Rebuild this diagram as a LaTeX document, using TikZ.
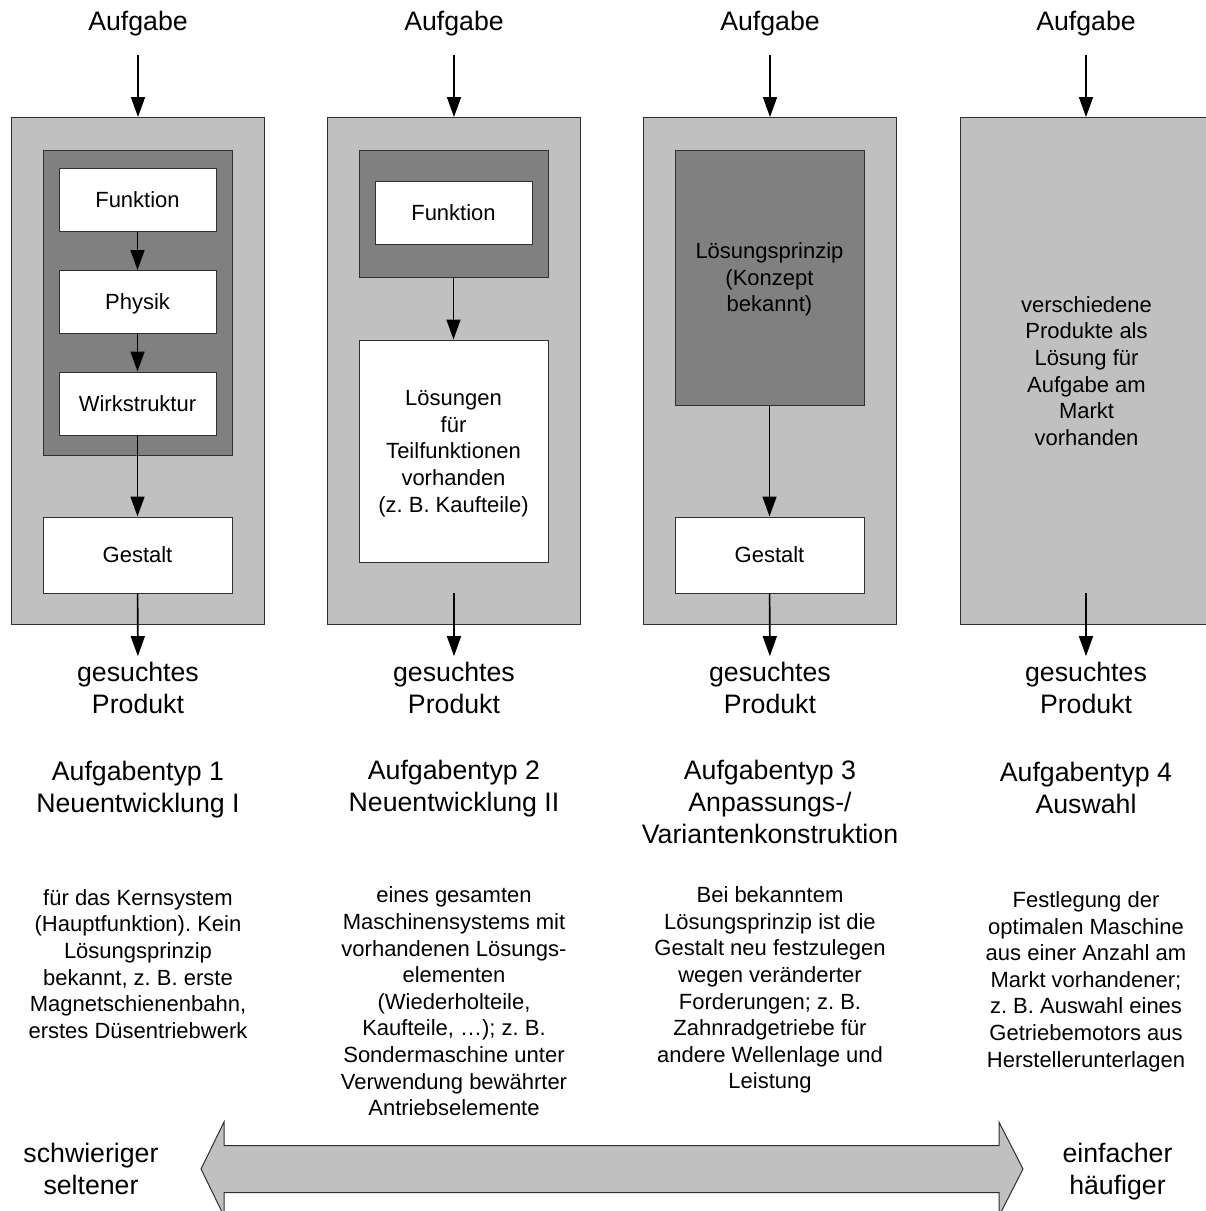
\documentclass[tikz,border=0pt]{standalone}
\usepackage{fontspec}
\setmainfont{Liberation Sans}
\usetikzlibrary{arrows.meta}
\frenchspacing
\definecolor{panel}{HTML}{C0C0C0}
\definecolor{core}{HTML}{808080}
\definecolor{edge}{HTML}{303030}
% font sizes
\newcommand\fbig{\fontsize{26.7pt}{32pt}\selectfont}
\newcommand\fsmall{\fontsize{22pt}{26.6pt}\selectfont}
% struts that centre the cap height of a text block on its node centre
\newcommand\hiL{\rule[-5.6pt]{0pt}{30.3pt}}
\newcommand\hiS{\rule[-4.6pt]{0pt}{24.95pt}}
\begin{document}
\begin{tikzpicture}[x=1pt,y=-1pt,
  outerbox/.style={draw=edge,line width=1pt,fill=panel,inner sep=0pt,
    minimum width=253pt,minimum height=507pt,font=\fsmall,align=center},
  darkbox/.style={draw=edge,line width=1pt,fill=core,inner sep=0pt,
    minimum width=189pt,font=\fsmall,align=center},
  whitebox/.style={draw=edge,line width=1pt,fill=white,inner sep=0pt,
    minimum width=157pt,minimum height=63pt,font=\fsmall,align=center},
  widebox/.style={whitebox,minimum width=189pt},
  bigtext/.style={inner sep=0pt,font=\fbig,align=center},
  smalltext/.style={inner sep=0pt,font=\fsmall,align=center},
  arr/.style={line width=1.6pt,-{Triangle[width=14pt,length=20pt]}}]
\useasboundingbox (0,0) rectangle (1206,1211);
\clip (0,0) rectangle (1206,1211);

% ---------- column 1: Neuentwicklung I ----------
\node[outerbox] (out1) at (138,371) {};
\node[darkbox,minimum height=305pt] (core1) at (137.5,302.5) {};
\node[whitebox] (fkt1) at (137.5,200) {\hiS Funktion\hiS};
\node[whitebox] (phy1) at (137.5,302) {\hiS Physik\hiS};
\node[whitebox] (wrk1) at (137.5,403.5) {\hiS Wirkstruktur\hiS};
\node[widebox,minimum height=76pt] (gst1) at (137.5,555) {\hiS Gestalt\hiS};

% ---------- column 2: Neuentwicklung II ----------
\node[outerbox] (out2) at (454,371) {};
\node[darkbox,minimum height=127pt] (core2) at (453.5,213.5) {};
\node[whitebox] (fkt2) at (453.5,212.5) {\hiS Funktion\hiS};
\node[widebox,minimum height=222pt] (loes2) at (453.5,451)
  {\hiS Lösungen\\für\\Teilfunktionen\\vorhanden\\(z. B. Kaufteile)\hiS};
\coordinate (end2) at (454,593);

% ---------- column 3: Anpassungs-/Variantenkonstruktion ----------
\node[outerbox] (out3) at (770,371) {};
\node[darkbox,minimum height=255pt] (core3) at (769.5,277.5)
  {\hiS Lösungsprinzip\\(Konzept\\bekannt)\hiS};
\node[widebox,minimum height=76pt] (gst3) at (769.5,555) {\hiS Gestalt\hiS};

% ---------- column 4: Auswahl ----------
\node[outerbox] (out4) at (1086.5,371)
  {\hiS verschiedene\\Produkte als\\Lösung für\\Aufgabe am\\Markt\\vorhanden\hiS};
\coordinate (end4) at (1086,593);

% ---------- inputs and results ----------
\foreach \i/\x in {1/138,2/454,3/770,4/1086}{
  \node[bigtext] (task\i) at (\x,20.5) {\hiL Aufgabe\hiL};
  \node[bigtext] (prod\i) at (\x,687.5) {\hiL gesuchtes\\Produkt\hiL};
}

% ---------- connectors ----------
\foreach \i in {1,2,3,4}
  \draw[arr,shorten <=19.4pt] (task\i.south) -- (task\i.south |- out\i.north);
\draw[arr] (fkt1) -- (phy1);
\draw[arr] (phy1) -- (wrk1);
\draw[arr] (wrk1) -- (gst1);
\draw[arr] (gst1) -- (prod1);
\draw[arr] (core2) -- (loes2);
\draw[arr] (end2) -- (prod2.north);
\draw[arr] (core3) -- (gst3);
\draw[arr] (gst3) -- (prod3);
\draw[arr] (end4) -- (prod4.north);

% ---------- task types ----------
\node[bigtext] (type1) at (138,787) {\hiL Aufgabentyp 1\\Neuentwicklung I\hiL};
\node[bigtext] (type2) at (454,785.5) {\hiL Aufgabentyp 2\\Neuentwicklung II\hiL};
\node[bigtext] (type3) at (770,801.5) {\hiL Aufgabentyp 3\\Anpassungs-/\\Variantenkonstruktion\hiL};
\node[bigtext] (type4) at (1086,788) {\hiL Aufgabentyp 4\\Auswahl\hiL};

% ---------- descriptions ----------
\node[smalltext] (desc1) at (138,964) {\hiS für das Kernsystem\\(Hauptfunktion). Kein\\Lösungsprinzip\\bekannt, z. B. erste\\Magnetschienenbahn,\\erstes Düsentriebwerk\hiS};
\node[smalltext] (desc2) at (454,1001.5) {\hiS eines gesamten\\Maschinensystems mit\\vorhandenen Lösungs-\\elementen\\(Wiederholteile,\\Kaufteile, …); z. B.\\Sondermaschine unter\\Verwendung bewährter\\Antriebselemente\hiS};
\node[smalltext] (desc3) at (770,988) {\hiS Bei bekanntem\\Lösungsprinzip ist die\\Gestalt neu festzulegen\\wegen veränderter\\Forderungen; z. B.\\Zahnradgetriebe für\\andere Wellenlage und\\Leistung\hiS};
\node[smalltext] (desc4) at (1086,979.5) {\hiS Festlegung der\\optimalen Maschine\\aus einer Anzahl am\\Markt vorhandener;\\z. B. Auswahl eines\\Getriebemotors aus\\Herstellerunterlagen\hiS};

% ---------- scale arrow ----------
\draw[draw=edge,line width=1pt,fill=panel]
  (201,1169) -- (224,1122) -- (224,1145.5) -- (999,1145.5) -- (999,1122)
  -- (1023,1169) -- (999,1216) -- (999,1192.5) -- (224,1192.5) -- (224,1216) -- cycle;
\node[bigtext] (hard) at (91,1168.5) {\hiL schwieriger\\seltener\hiL};
\node[bigtext] (easy) at (1117.5,1168.5) {\hiL einfacher\\häufiger\hiL};
\end{tikzpicture}
\end{document}
